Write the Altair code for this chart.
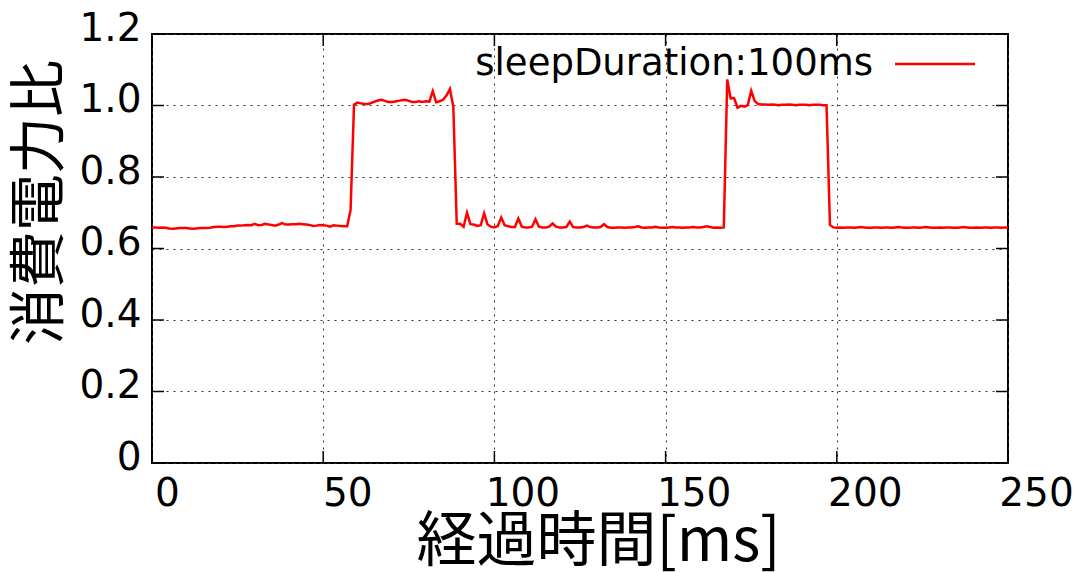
import altair as alt
import numpy as np
import pandas as pd

CJK_FONT = "Noto Sans CJK JP"
LATIN_FONT = "DejaVu Sans"

SERIES = "sleepDuration:100ms"
X_TITLE = "経過時間[ms]"
Y_TITLE = "消費電力比"

# sample times: one sample per millisecond, 0 .. 250 ms
TIME_MS = np.arange(0, 251, 1)

# power ratio per sample
POWER_RATIO = [
    0.659, 0.659, 0.658, 0.659, 0.658, 0.656, 0.655, 0.656, 0.657, 0.657,
    0.657, 0.656, 0.655, 0.656, 0.657, 0.657, 0.657, 0.658, 0.660, 0.661,
    0.661, 0.660, 0.661, 0.662, 0.662, 0.664, 0.664, 0.665, 0.666, 0.665,
    0.669, 0.665, 0.666, 0.669, 0.667, 0.666, 0.664, 0.667, 0.671, 0.667,
    0.667, 0.668, 0.668, 0.669, 0.668, 0.667, 0.666, 0.663, 0.664, 0.666,
    0.665, 0.664, 0.661, 0.665, 0.664, 0.663, 0.662, 0.662, 0.708, 1.002,
    1.008, 1.006, 1.004, 1.004, 1.007, 1.011, 1.014, 1.016, 1.013, 1.010,
    1.010, 1.011, 1.013, 1.015, 1.016, 1.013, 1.010, 1.010, 1.012, 1.010,
    1.012, 1.011, 1.040, 1.009, 1.012, 1.016, 1.028, 1.046, 0.997, 0.669,
    0.669, 0.661, 0.700, 0.668, 0.667, 0.663, 0.665, 0.698, 0.667, 0.661,
    0.659, 0.663, 0.687, 0.665, 0.662, 0.660, 0.660, 0.684, 0.661, 0.659,
    0.659, 0.661, 0.682, 0.661, 0.659, 0.659, 0.661, 0.670, 0.661, 0.659,
    0.659, 0.660, 0.675, 0.660, 0.659, 0.659, 0.660, 0.664, 0.660, 0.659,
    0.659, 0.660, 0.668, 0.660, 0.658, 0.658, 0.659, 0.659, 0.658, 0.659,
    0.659, 0.660, 0.662, 0.659, 0.658, 0.659, 0.659, 0.661, 0.659, 0.658,
    0.658, 0.659, 0.660, 0.659, 0.659, 0.658, 0.659, 0.659, 0.660, 0.659,
    0.659, 0.660, 0.662, 0.660, 0.658, 0.659, 0.658, 0.659, 1.073, 1.020,
    1.021, 0.994, 0.999, 0.997, 1.001, 1.041, 1.013, 1.004, 1.003, 1.003,
    1.002, 1.003, 1.002, 1.001, 1.002, 1.002, 1.003, 1.002, 1.001, 1.002,
    1.002, 1.002, 1.001, 1.002, 1.002, 1.002, 1.001, 1.001, 0.666, 0.659,
    0.658, 0.659, 0.658, 0.659, 0.659, 0.658, 0.659, 0.660, 0.659, 0.658,
    0.658, 0.659, 0.659, 0.658, 0.659, 0.659, 0.658, 0.659, 0.660, 0.659,
    0.658, 0.658, 0.659, 0.659, 0.658, 0.659, 0.660, 0.659, 0.658, 0.658,
    0.659, 0.658, 0.659, 0.659, 0.658, 0.658, 0.659, 0.660, 0.659, 0.658,
    0.658, 0.659, 0.658, 0.659, 0.659, 0.658, 0.659, 0.659, 0.658, 0.659,
    0.659,
]

X_TICKS = [0, 50, 100, 150, 200, 250]
Y_TICKS = [0.0, 0.2, 0.4, 0.6, 0.8, 1.0, 1.2]

W, H = 856, 429
TICK_LEN = 12

df = pd.DataFrame({"t": TIME_MS, "ratio": POWER_RATIO})
xt = pd.DataFrame({"v": X_TICKS})
yt = pd.DataFrame({"v": Y_TICKS})
legend_df = pd.DataFrame({"series": [SERIES]})

x_scale = alt.Scale(domain=[0, 250], nice=False, zero=False)
y_scale = alt.Scale(domain=[0, 1.2], nice=False, zero=False)

grid_style = dict(grid=True, gridDash=[2, 5], gridColor="#333", gridWidth=1,
                  ticks=False, tickSize=0, domain=False)

x_axis = alt.Axis(
    values=X_TICKS, **grid_style,
    labelFont=LATIN_FONT, labelFontSize=39, labelColor="black",
    labelPadding=11, labelAlign="center", labelBaseline="top",
    labelFlush=False, labelOverlap=False,
    labelOffset={"condition": [{"test": "datum.value < 10", "value": 15},
                               {"test": "datum.value < 100", "value": 24}],
                 "value": 28},
    title=X_TITLE, titleFont=CJK_FONT, titleFontSize=60, titleFontWeight="normal",
    titleColor="black", titleX=446, titleY=97, titleBaseline="alphabetic",
    titleAlign="center",
)

y_axis = alt.Axis(
    values=Y_TICKS, **grid_style,
    labelFont=LATIN_FONT, labelFontSize=39, labelColor="black",
    labelPadding=11, labelOffset=-6, labelFlush=False, labelOverlap=False,
    labelExpr="datum.value == 0 ? '0' : format(datum.value, '.1f')",
    title=Y_TITLE, titleFont=CJK_FONT, titleFontSize=57, titleFontWeight="normal",
    titleColor="black", titleAngle=-90, titleX=-112, titleY=168,
    titleAlign="center", titleBaseline="middle",
)

line = alt.Chart(df).mark_line(color="#ff0000", strokeWidth=2.5).encode(
    x=alt.X("t:Q", scale=x_scale, axis=x_axis),
    y=alt.Y("ratio:Q", scale=y_scale, axis=y_axis),
)

tick_style = dict(color="black", strokeWidth=1.5)
x_ticks_bottom = alt.Chart(xt).mark_rule(**tick_style).encode(
    x=alt.X("v:Q", scale=x_scale, axis=None),
    y=alt.value(H), y2=alt.value(H - TICK_LEN),
)
x_ticks_top = alt.Chart(xt).mark_rule(**tick_style).encode(
    x=alt.X("v:Q", scale=x_scale, axis=None),
    y=alt.value(0), y2=alt.value(TICK_LEN),
)
y_ticks_left = alt.Chart(yt).mark_rule(**tick_style).encode(
    y=alt.Y("v:Q", scale=y_scale, axis=None),
    x=alt.value(0), x2=alt.value(TICK_LEN),
)
y_ticks_right = alt.Chart(yt).mark_rule(**tick_style).encode(
    y=alt.Y("v:Q", scale=y_scale, axis=None),
    x=alt.value(W - TICK_LEN), x2=alt.value(W),
)

# key in the upper right: label followed by a line sample
key_text = alt.Chart(legend_df).mark_text(
    font=LATIN_FONT, fontSize=37, color="black", align="right", baseline="middle"
).encode(text="series:N", x=alt.value(721), y=alt.value(30))
key_line = alt.Chart(legend_df).mark_rule(color="#ff0000", strokeWidth=2.5).encode(
    x=alt.value(743), x2=alt.value(823), y=alt.value(30)
)

chart = alt.layer(
    line, x_ticks_bottom, x_ticks_top, y_ticks_left, y_ticks_right, key_text, key_line
).resolve_axis(
    x="independent", y="independent"
).properties(
    width=W, height=H,
    autosize=alt.AutoSizeParams(type="none"),
    padding={"left": 152, "top": 34, "right": 1082 - 152 - W, "bottom": 572 - 34 - H},
    background="white",
).configure_view(stroke="black", strokeWidth=2)

chart.save("out.html", embed_options={"renderer": "svg", "actions": False})
